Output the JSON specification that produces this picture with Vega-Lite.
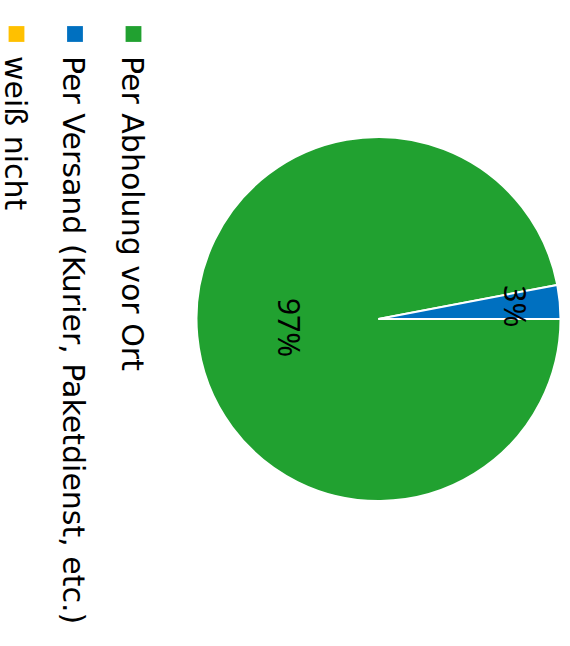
{
  "$schema": "https://vega.github.io/schema/vega-lite/v6.json",
  "padding": {"left": -1.5, "top": 0, "right": 0, "bottom": 0},
  "spacing": 0,
  "background": "white",
  "config": {"view": {"stroke": null}, "font": "Noto Sans"},
  "data": {"values": [
    {"category": "Per Abholung vor Ort", "value": 0.97},
    {"category": "Per Versand (Kurier, Paketdienst, etc.)", "value": 0.03},
    {"category": "weiß nicht", "value": 0}
  ]},
  "hconcat": [
    {
      "width": 186,
      "height": 638,
      "layer": [
        {
          "mark": {"type": "square", "size": 250, "opacity": 1},
          "encoding": {
            "x": {"field": "category", "type": "nominal", "axis": null,
                  "scale": {"type": "point", "padding": 0, "domain": ["weiß nicht", "Per Versand (Kurier, Paketdienst, etc.)", "Per Abholung vor Ort"], "range": [16, 133]}},
            "y": {"value": 34},
            "color": {"field": "category", "type": "nominal", "legend": null,
                      "scale": {"domain": ["Per Abholung vor Ort", "Per Versand (Kurier, Paketdienst, etc.)", "weiß nicht"], "range": ["#21A130", "#0070C0", "#FFC000"]}}
          }
        },
        {
          "mark": {"type": "text", "angle": 90, "align": "left", "baseline": "middle", "font": "DejaVu Sans", "fontSize": 30, "dy": 3, "color": "black"},
          "encoding": {
            "x": {"field": "category", "type": "nominal", "axis": null},
            "y": {"value": 56},
            "text": {"field": "category"}
          }
        }
      ]
    },
    {
      "width": 384,
      "height": 638,
      "layer": [
        {
          "mark": {"type": "arc", "outerRadius": 182, "stroke": "white", "strokeWidth": 2},
          "encoding": {
            "theta": {"field": "value", "type": "quantitative", "stack": true, "scale": {"range": [1.5707963, 7.8539816]}},
            "order": {"field": "category", "type": "nominal", "sort": "ascending"},
            "color": {"field": "category", "type": "nominal", "legend": null,
                      "scale": {"domain": ["Per Abholung vor Ort", "Per Versand (Kurier, Paketdienst, etc.)", "weiß nicht"], "range": ["#21A130", "#0070C0", "#FFC000"]}}
          }
        },
        {
          "mark": {"type": "text", "radius": 92, "angle": 90, "align": "center", "baseline": "middle", "fontSize": 30, "color": "black"},
          "encoding": {
            "theta": {"field": "value", "type": "quantitative", "stack": true},
            "order": {"field": "category", "type": "nominal", "sort": "ascending"},
            "detail": {"field": "category"},
            "text": {"condition": {"test": "datum.value >= 0.5", "field": "value", "format": ".0%"}, "value": ""}
          }
        },
        {
          "mark": {"type": "text", "radius": 135, "angle": 90, "align": "center", "baseline": "middle", "fontSize": 30, "color": "black"},
          "encoding": {
            "theta": {"field": "value", "type": "quantitative", "stack": true},
            "order": {"field": "category", "type": "nominal", "sort": "ascending"},
            "detail": {"field": "category"},
            "text": {"condition": {"test": "datum.value > 0 && datum.value < 0.5", "field": "value", "format": ".0%"}, "value": ""}
          }
        }
      ]
    }
  ]
}
